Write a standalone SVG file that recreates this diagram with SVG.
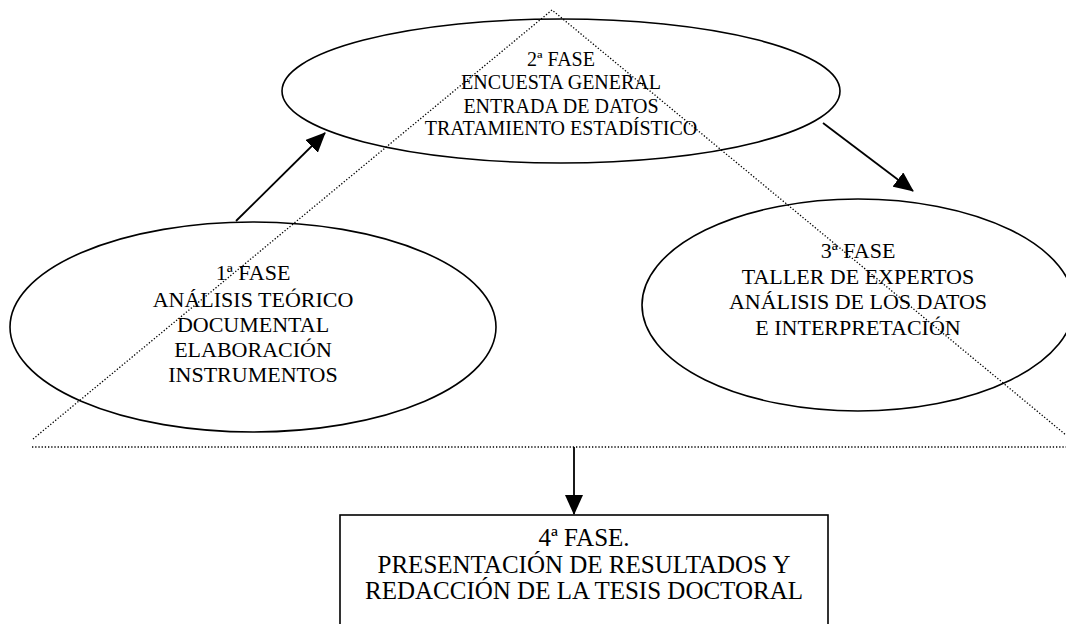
<svg xmlns="http://www.w3.org/2000/svg" width="1066" height="624" viewBox="0 0 1066 624">
<defs>
<style>
.shape{fill:none;stroke:#000;stroke-width:1.6}
.dot{fill:none;stroke:#000;stroke-width:1.3;stroke-dasharray:1.3 1.9}
.conn{stroke:#000;stroke-width:1.8;fill:none}
text{font-family:"Liberation Serif","Times New Roman",serif;fill:#000;text-anchor:middle}
.t20{font-size:20px}
.t22{font-size:22px}
.t25{font-size:25px}
</style>
<marker id="ah" viewBox="0 0 20 18" refX="19" refY="9" markerWidth="20" markerHeight="18" markerUnits="userSpaceOnUse" orient="auto">
<path d="M0,0 L20,9 L0,18 Z" fill="#000"/>
</marker>
</defs>
<rect width="1066" height="624" fill="#fff"/>
<g id="triangle">
<polyline class="dot" points="33,439 552,10 1072,440"/>
<line class="dot" x1="32" y1="447" x2="1066" y2="447"/>
</g>
<g id="fase2">
<ellipse class="shape" cx="561" cy="91" rx="279" ry="72"/>
<text class="t20" x="561" y="66">2ª FASE</text>
<text class="t20" x="561" y="89">ENCUESTA GENERAL</text>
<text class="t20" x="561" y="113">ENTRADA DE DATOS</text>
<text class="t20" x="561" y="135">TRATAMIENTO ESTADÍSTICO</text>
</g>
<g id="fase1">
<ellipse class="shape" cx="253" cy="327" rx="243" ry="105"/>
<text class="t22" x="253" y="280">1ª FASE</text>
<text class="t22" x="253" y="307">ANÁLISIS TEÓRICO</text>
<text class="t22" x="253" y="332">DOCUMENTAL</text>
<text class="t22" x="253" y="357">ELABORACIÓN</text>
<text class="t22" x="253" y="382">INSTRUMENTOS</text>
</g>
<g id="fase3">
<ellipse class="shape" cx="858" cy="305" rx="216" ry="106"/>
<text class="t22" x="858" y="258">3ª FASE</text>
<text class="t22" x="858" y="284">TALLER DE EXPERTOS</text>
<text class="t22" x="858" y="309">ANÁLISIS DE LOS DATOS</text>
<text class="t22" x="858" y="335">E INTERPRETACIÓN</text>
</g>
<g id="fase4">
<rect class="shape" x="340" y="515" width="488" height="130"/>
<text class="t25" x="584" y="546">4ª FASE.</text>
<text class="t25" x="584" y="573">PRESENTACIÓN DE RESULTADOS Y</text>
<text class="t25" x="584" y="599">REDACCIÓN DE LA TESIS DOCTORAL</text>
</g>
<g id="connectors">
<line class="conn" x1="236" y1="221" x2="325" y2="133" marker-end="url(#ah)"/>
<line class="conn" x1="823" y1="123" x2="913" y2="191" marker-end="url(#ah)"/>
<line class="conn" x1="574" y1="447" x2="574" y2="514" marker-end="url(#ah)"/>
</g>
</svg>
